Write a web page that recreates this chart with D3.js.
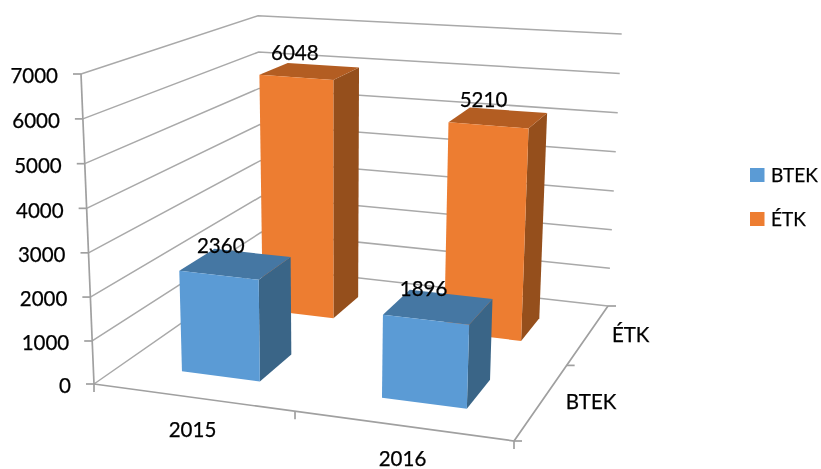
<!DOCTYPE html>
<html lang="hu">
<head>
<meta charset="UTF-8">
<title>BTEK / ÉTK</title>
<script src="https://cdn.jsdelivr.net/npm/d3@7"></script>
<style>
html, body { margin: 0; padding: 0; background: #fff; }
svg { display: block; filter: blur(0.4px); }
text { font-family: Lato, "Open Sans", sans-serif; font-size: 20.5px; fill: #000; stroke: #000; stroke-width: 0.25px; }
.grid { fill: none; stroke: #a9a9a9; stroke-width: 1.5px; }
.axis { fill: none; stroke: #a0a0a0; stroke-width: 1.7px; }
</style>
</head>
<body>
<div id="chart"></div>
<script>
// data
var years = ["2015", "2016"];
var seriesNames = ["BTEK", "ÉTK"];
var btekValues = [2360, 1896];
var etkValues = [6048, 5210];
var valueTicks = [0, 1000, 2000, 3000, 4000, 5000, 6000, 7000];

var width = 821, height = 469;

// colours per series: front, top, side
var colors = {
	"BTEK": { front: "#5b9bd5", top: "#4577a3", side: "#3a6587" },
	"ÉTK": { front: "#ed7d31", top: "#b35d22", side: "#954f1c" }
};

// corners of the 3D box on the screen (floor / ceiling)
var floor = { fl: [94, 384], fr: [514, 441], bl: [262, 267], br: [608, 306] };
var ceil = { fl: [81, 74], fr: [526, 111], bl: [258, 15.7], br: [621.7, 34] };

// perspective squeezes the axes a bit, so the middle is not at 0.5
var xScale = d3.scaleLinear().domain([0, 1, 2]).range([0, 0.4786, 1]);
var zScale = d3.scaleLinear().domain([0, 1, 2]).range([0, 0.56, 1]);
var yScale = d3.scalePow().exponent(1.015).domain([0, 7000]).range([0, 1]);

// slots inside the box
var xBand = d3.scaleBand().domain(years).range([0, 2]).paddingInner(0.6).paddingOuter(0.3);
var zBand = d3.scaleBand().domain(seriesNames).range([0, 2]).paddingInner(0.6).paddingOuter(0.32);

function mix(a, b, t) { return [a[0] + (b[0] - a[0]) * t, a[1] + (b[1] - a[1]) * t]; }

function quad(c, u, w) {
	return mix(mix(c.fl, c.fr, u), mix(c.bl, c.br, u), w);
}

// x,z in slot units (0..2), v in data units
function project(x, z, v) {
	var u = xScale(x), w = zScale(z);
	return mix(quad(floor, u, w), quad(ceil, u, w), yScale(v));
}

var path = d3.line();

var svg = d3.select("#chart").append("svg")
	.attr("width", width)
	.attr("height", height);

// gridlines: left wall, then back wall
svg.selectAll("path.grid")
	.data(valueTicks)
	.enter()
	.append("path")
	.attr("class", "grid")
	.attr("d", function(d) {
		return path([project(0, 0, d), project(0, 2, d), project(2, 2, d)]);
	});

// axes
svg.append("path").attr("class", "axis").attr("d", path([project(0, 0, 0), project(0, 0, 7000)]));
svg.append("path").attr("class", "axis").attr("d", path([project(0, 0, 0), project(2, 0, 0), project(2, 2, 0)]));

// value ticks + labels
valueTicks.forEach(function(d) {
	var p = project(0, 0, d);
	svg.append("path").attr("class", "axis").attr("d", path([[p[0] - 8, p[1]], p]));
	svg.append("text")
		.attr("x", p[0] - 23)
		.attr("y", p[1] + 2)
		.attr("dy", "0.35em")
		.attr("text-anchor", "end")
		.text(d);
});

// category ticks
[0, 1, 2].forEach(function(d) {
	var p = project(d, 0, 0);
	svg.append("path").attr("class", "axis").attr("d", path([p, [p[0], p[1] + 8]]));
	var q = project(2, d, 0);
	svg.append("path").attr("class", "axis").attr("d", path([q, [q[0] + 8, q[1]]]));
});

years.forEach(function(d) {
	var p = project(xBand(d) + xBand.bandwidth() / 2, 0, 0);
	svg.append("text")
		.attr("x", p[0] - 2)
		.attr("y", p[1] + 32.5)
		.attr("dy", "0.35em")
		.attr("text-anchor", "middle")
		.text(d);
});

seriesNames.forEach(function(d) {
	var p = project(2, zBand(d) + zBand.bandwidth() / 2, 0);
	svg.append("text")
		.attr("x", p[0] + 25)
		.attr("y", p[1] - 1)
		.attr("dy", "0.35em")
		.text(d);
});

// bars, back row first
var rows = [
	{ name: "ÉTK", values: etkValues },
	{ name: "BTEK", values: btekValues }
];

rows.forEach(function(row) {
	var x = function(i) { return xBand(years[i]); };
	var z0 = zBand(row.name), z1 = z0 + zBand.bandwidth();
	var g = svg.append("g");
	var bars = g.selectAll("g")
		.data(row.values)
		.enter()
		.append("g");

	function pts(fn) {
		return function(d, i) {
			return fn(d, x(i), x(i) + xBand.bandwidth()).join(" ");
		};
	}

	// right side
	bars.append("polygon")
		.attr("fill", colors[row.name].side)
		.attr("points", pts(function(d, x0, x1) {
			return [project(x1, z0, 0), project(x1, z1, 0), project(x1, z1, d), project(x1, z0, d)];
		}));
	// top
	bars.append("polygon")
		.attr("fill", colors[row.name].top)
		.attr("points", pts(function(d, x0, x1) {
			return [project(x0, z0, d), project(x1, z0, d), project(x1, z1, d), project(x0, z1, d)];
		}));
	// front
	bars.append("polygon")
		.attr("fill", colors[row.name].front)
		.attr("points", pts(function(d, x0, x1) {
			return [project(x0, z0, 0), project(x1, z0, 0), project(x1, z0, d), project(x0, z0, d)];
		}));
});

// value labels on top of everything
rows.forEach(function(row) {
	var zc = zBand(row.name) + zBand.bandwidth() / 2;
	row.values.forEach(function(d, i) {
		var p = project(xBand(years[i]) + xBand.bandwidth() / 2, zc, d);
		svg.append("text")
			.attr("x", p[0] - 15)
			.attr("y", p[1] - 18)
			.attr("dy", "0.35em")
			.attr("text-anchor", "middle")
			.text(d);
	});
});

// legend
var legendY = d3.scalePoint().domain(seriesNames).range([175, 219]);

svg.selectAll("rect.legend")
	.data(seriesNames)
	.enter()
	.append("rect")
	.attr("class", "legend")
	.attr("x", 750)
	.attr("y", function(d) { return legendY(d) - 7; })
	.attr("width", 14.5)
	.attr("height", 14)
	.attr("fill", function(d) { return colors[d].front; });

svg.selectAll("text.legend")
	.data(seriesNames)
	.enter()
	.append("text")
	.attr("class", "legend")
	.attr("x", 771)
	.attr("y", function(d) { return legendY(d) + 7; })
	.style("font-size", "19px")
	.text(function(d) { return d; });
</script>
</body>
</html>
